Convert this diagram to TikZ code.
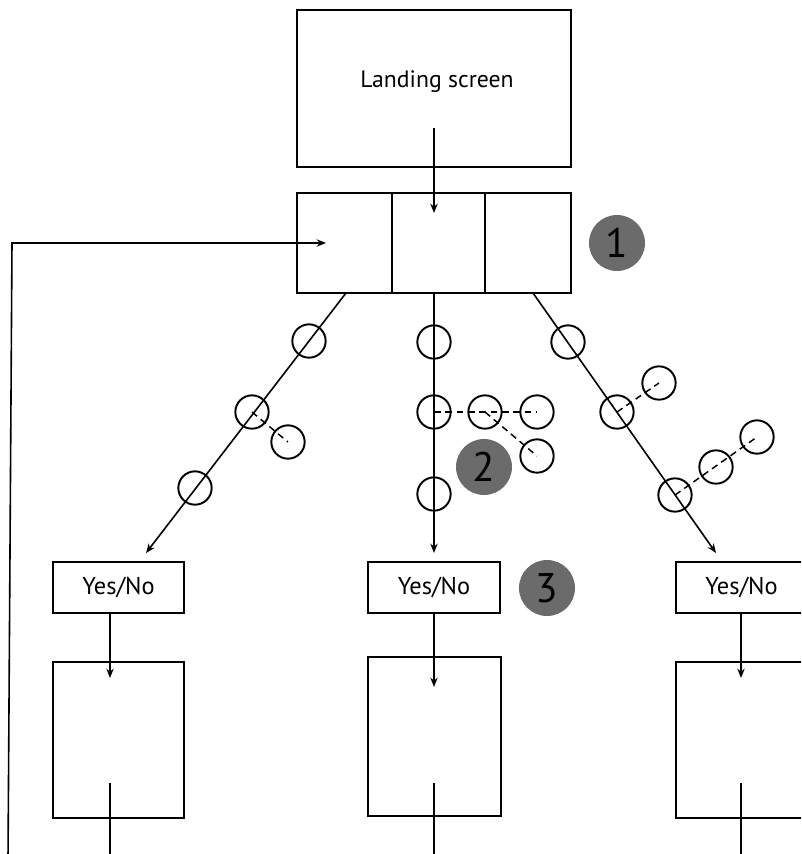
\documentclass[tikz,border=0pt]{standalone}
\usepackage{fontspec}
\setmainfont{PT Sans}
\usetikzlibrary{arrows.meta,calc}
\definecolor{badgegray}{HTML}{6B6B6B}
\begin{document}
\begin{tikzpicture}[x=0.75pt,y=-0.75pt,
  frame/.style={draw,line width=1.5pt,inner sep=0pt,fill=white},
  conn/.style={line width=1.2pt,-{Stealth[length=7pt,width=5.5pt]}},
  plain/.style={line width=1.2pt},
  token/.style={circle,draw,line width=1.45pt,minimum size=25pt,inner sep=0pt},
  branch/.style={line width=1.1pt,dash pattern=on 5pt off 3.5pt},
  badge/.style={circle,fill=badgegray,minimum size=42pt,inner sep=0pt,
    font=\fontsize{31}{31}\selectfont},
  label/.style={font=\fontsize{17.8}{20}\selectfont,inner sep=0pt},
  answer/.style={font=\fontsize{18.3}{20}\selectfont},
]
\useasboundingbox (0,0) rectangle (801,854);
\clip (0,0) rectangle (801,854);

% landing screen
\node[frame,minimum width=205.5pt,minimum height=117.75pt] (landing) at (434,88.5) {};
\node[label] (landingtext) at (437,82) {Landing screen};

% three-section menu
\node[frame,minimum width=71.25pt,minimum height=75pt] (sec1) at (344.5,243) {};
\node[frame,minimum width=69.75pt,minimum height=75pt] (sec2) at (438.5,243) {};
\node[frame,minimum width=64.5pt,minimum height=75pt] (sec3) at (528,243) {};

\coordinate (landout) at (434,128);
\coordinate (menuin) at (434,213);
\draw[conn] (landout) -- (menuin);

% feedback loop into the first section
\coordinate (loopstart) at (8,860);
\coordinate (loopcorner) at (12,243);
\coordinate (loopend) at (326,243);
\draw[conn] (loopstart) -- (loopcorner) -- (loopend);

% yes/no decisions
\node[frame,minimum width=98.25pt,minimum height=38.25pt,answer] (yn1) at (118.5,587.5) {Yes/No};
\node[frame,minimum width=99pt,minimum height=38.25pt,answer] (yn2) at (434,587.5) {Yes/No};
\node[frame,minimum width=98.25pt,minimum height=38.25pt,answer] (yn3) at (741.5,587.5) {Yes/No};

% branch paths
\coordinate (lstart) at (346,293);
\coordinate (lend) at (146,553);
\coordinate (mstart) at (434,293);
\coordinate (mend) at (434,553);
\coordinate (rstart) at (533,293);
\coordinate (rend) at (716,553);
\draw[conn] (lstart) -- (lend);
\draw[conn] (mstart) -- (mend);
\draw[conn] (rstart) -- (rend);

% tokens on the left path
\node[token] (l1) at (309,341) {};
\node[token] (l2) at (252,412) {};
\node[token] (l3) at (195,488) {};
\node[token] (l4) at (288,442) {};
\draw[branch] (l2.center) -- (l4.center);

% tokens on the middle path
\node[token] (m1) at (434,342) {};
\node[token] (m2) at (434,412) {};
\node[token] (m3) at (434,494) {};
\node[token] (m4) at (485,412) {};
\node[token] (m5) at (537,412) {};
\node[token] (m6) at (537,456) {};
\draw[branch] (m2.center) -- (m5.center);
\draw[branch] (m4.center) -- (m6.center);

% tokens on the right path
\node[token] (r1) at (568,342) {};
\node[token] (r2) at (617,412) {};
\node[token] (r3) at (675,495) {};
\node[token] (r4) at (659,383) {};
\node[token] (r5) at (716,467) {};
\node[token] (r6) at (757,437) {};
\draw[branch] (r2.center) -- (r4.center);
\draw[branch] (r3.center) -- (r6.center);

% numbered badges
\node[badge] (b1) at (617,243) {1};
\node[badge] (b2) at (484,467) {2};
\node[badge] (b3) at (547,588) {3};

% result screens
\node[frame,minimum width=98.25pt,minimum height=117pt] (t1) at (118.5,740) {};
\node[frame,minimum width=99.75pt,minimum height=119.25pt] (t2) at (434.5,736.5) {};
\node[frame,minimum width=98.25pt,minimum height=117pt] (t3) at (741.5,740) {};

\coordinate (y1out) at (110,613);
\coordinate (t1in) at (110,678);
\coordinate (y2out) at (434,613);
\coordinate (t2in) at (434,687);
\coordinate (y3out) at (741,613);
\coordinate (t3in) at (741,678);
\draw[conn] (y1out) -- (t1in);
\draw[conn] (y2out) -- (t2in);
\draw[conn] (y3out) -- (t3in);

\coordinate (t1out) at (110,783);
\coordinate (t1down) at (110,860);
\coordinate (t2out) at (434,783);
\coordinate (t2down) at (434,860);
\coordinate (t3out) at (741,783);
\coordinate (t3down) at (741,860);
\draw[plain] (t1out) -- (t1down);
\draw[plain] (t2out) -- (t2down);
\draw[plain] (t3out) -- (t3down);
\end{tikzpicture}
\end{document}
